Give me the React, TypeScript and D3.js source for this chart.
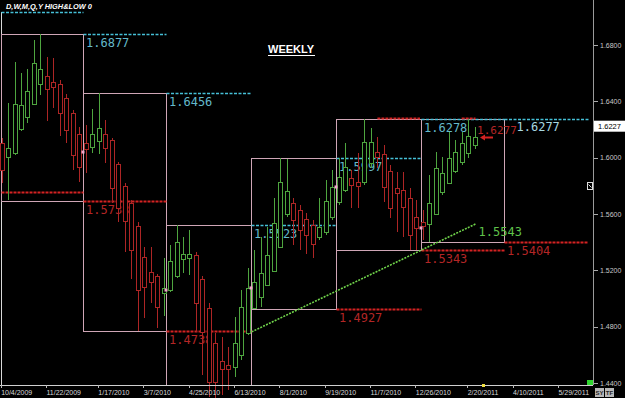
import React from 'react';
import * as d3 from 'd3';

const W = 625;
const H = 398;

// Weekly candles, first week starting Monday 2009-10-05
const firstWeek = '2009-10-05';
const opens = [1.6104,1.6005,1.6033,1.6204,1.6289,1.6381,1.6523,1.6580,1.6537,1.6523,1.6424,1.6317,1.6168,
  1.6104,1.6076,1.6118,1.6168,1.6126,1.5955,1.5799,1.5678,1.5515,1.5295,1.5188,1.5160,1.5039,
  1.5060,1.5160,1.5281,1.5288,1.5309,1.5139,1.4933,1.4684,1.4556,1.4528,1.4514,1.4599,1.4755,
  1.4930,1.5011,1.5096,1.5195,1.5366,1.5600,1.5678,1.5628,1.5565,1.5522,1.5437,1.5472,1.5579,
  1.5685,1.5771,1.5856,1.5827,1.5827,1.5962,1.6040,1.6026,1.5905,1.5785,1.5771,1.5714,1.5579,
  1.5543,1.5529,1.5600,1.5756,1.5820,1.5905,1.5969,1.6033,1.6090];
const highs = [1.6140,1.6388,1.6679,1.6601,1.6630,1.6836,1.6877,1.6715,1.6708,1.6552,1.6452,1.6339,1.6218,
  1.6232,1.6346,1.6456,1.6268,1.6140,1.5969,1.5820,1.5700,1.5543,1.5366,1.5366,1.5174,1.5288,
  1.5380,1.5523,1.5437,1.5486,1.5330,1.5160,1.4968,1.4755,1.4727,1.4656,1.4869,1.5060,1.5217,
  1.5344,1.5437,1.5508,1.5714,1.5997,1.5990,1.5714,1.5664,1.5607,1.5558,1.5714,1.5842,1.5913,
  1.5998,1.6104,1.5913,1.6033,1.6278,1.6211,1.6147,1.6090,1.5948,1.5898,1.5898,1.5785,1.5700,
  1.5628,1.5877,1.6040,1.6005,1.6182,1.6126,1.6182,1.6277,1.6218];
const lows = [1.5820,1.5700,1.6019,1.6189,1.6246,1.6374,1.6445,1.6260,1.6353,1.6154,1.6104,1.5913,1.5827,
  1.5891,1.6033,1.6026,1.5962,1.5678,1.5543,1.5330,1.5139,1.4769,1.4862,1.4968,1.4791,1.4876,
  1.5046,1.5146,1.5181,1.5167,1.4762,1.4457,1.4301,1.4294,1.4315,1.4351,1.4443,1.4564,1.4741,
  1.4927,1.4940,1.5089,1.5188,1.5359,1.5579,1.5380,1.5344,1.5316,1.5288,1.5416,1.5451,1.5558,
  1.5664,1.5756,1.5643,1.5643,1.5806,1.5927,1.5927,1.5685,1.5572,1.5472,1.5437,1.5344,1.5343,
  1.5416,1.5404,1.5593,1.5735,1.5813,1.5891,1.5948,1.5998,1.6062];
const closes = [1.5913,1.6069,1.6381,1.6374,1.6473,1.6672,1.6630,1.6488,1.6502,1.6317,1.6197,1.6019,1.5934,
  1.6062,1.6168,1.6211,1.6069,1.5785,1.5643,1.5550,1.5344,1.5060,1.5082,1.5117,1.4940,1.5075,
  1.5266,1.5401,1.5316,1.5316,1.4968,1.4762,1.4407,1.4407,1.4500,1.4500,1.4684,1.4940,1.5075,
  1.5117,1.5181,1.5309,1.5536,1.5827,1.5763,1.5558,1.5486,1.5451,1.5387,1.5508,1.5692,1.5792,
  1.5863,1.5934,1.5806,1.5799,1.6111,1.6111,1.6005,1.5792,1.5643,1.5749,1.5650,1.5451,1.5501,
  1.5515,1.5678,1.5927,1.5891,1.5998,1.6040,1.6104,1.6154,1.6147];

// Quarterly high / low boxes
const quarterStarts = ['2009-10-01','2010-01-01','2010-04-01','2010-07-01','2010-10-01','2011-01-01','2011-04-01','2011-07-01'];
const quarterHighs = [1.6877,1.6456,1.5523,1.5997,1.6278,1.6277];
const quarterLows = [1.5692,1.4769,1.4294,1.4927,1.5343,1.5404];
const priorQuarterHigh = 1.7034;
const priorQuarterLow = 1.5756;
const highLabels = ['1.6877','1.6456','1.5523','1.5997','1.6278','1.6277'];
const lowLabels = ['1.5738','1.4738','','1.4927','1.5343','1.5404'];
const quarterOpenMarks = [1.6040,1.5060,1.5075,1.5792,1.5501];

// Other levels
const redHighSegments = [['2010-11-15','2010-12-31'],['2011-02-14','2011-03-01']];
const redHighValue = 1.6285;
const redHighLabel = '1.6277';
const trendDates = ['2010-06-29','2011-03-01'];
const trendValues = [1.4753,1.5529];
const trendLabel = '1.5543';
const lastPrice = 1.6227;
const lastPriceLabel = '1.6227';

const yTicks = [1.68,1.64,1.60,1.56,1.52,1.48,1.44];
const xTickDates = ['2009-10-04','2009-11-22','2010-01-17','2010-03-07','2010-04-25','2010-06-13','2010-08-01',
  '2010-09-19','2010-11-07','2010-12-26','2011-02-20','2011-04-10','2011-05-29'];
const xTickLabels = ['10/4/2009','11/22/2009','1/17/2010','3/7/2010','4/25/2010','6/13/2010','8/1/2010',
  '9/19/2010','11/7/2010','12/26/2010','2/20/2011','4/10/2011','5/29/2011'];

const PLOT_R = 593;
const PLOT_B = 385;

const GREEN = '#4ea53f';
const RED = '#ad2525';
const CYAN = '#45bfd6';
const CYAN_TXT = '#63b9cb';
const RED_LINE = '#d42222';
const RED_TXT = '#b32626';
const BOX = '#cfa6b6';
const DIGIT_FONT = '"DejaVu Sans Mono", monospace';
const UI_FONT = '"Liberation Sans", Arial, sans-serif';

export default function App() {
  const d = (s: string) => new Date(s + 'T00:00:00Z');
  const x = d3.scaleUtc().domain([d('2009-11-22'), d('2011-05-29')]).range([46, 46 + 79 * 6.48]);
  const y = d3.scaleLinear().domain([1.44, 1.68]).range([383, 45]);
  const r = (v: number) => Math.round(v) + 0.5;

  const candles = opens.map((o, i) => ({
    date: d3.utcMonday.offset(d(firstWeek), i),
    o, h: highs[i], l: lows[i], c: closes[i],
  }));

  const qx = quarterStarts.map((s) => Math.min(PLOT_R, Math.max(1, Math.round(x(d(s))))) + 0.5);

  const regions = quarterStarts.slice(0, -1).map((s, i) => ({
    x0: qx[i],
    x1: qx[i + 1],
    hi: i === 0 ? priorQuarterHigh : quarterHighs[i - 1],
    lo: i === 0 ? priorQuarterLow : quarterLows[i - 1],
    hiLabel: i === 0 || i === 6 ? '' : highLabels[i - 1],
    loLabel: i === 0 ? '' : lowLabels[i - 1],
  }));

  const last = candles[candles.length - 1];
  const arrowY = r(y(last.c));
  const arrowX = Math.round(x(last.date)) + 5;

  return (
    <svg width={W} height={H} style={{ position: 'fixed', left: 0, top: 0, display: 'block', background: '#000' }}>
      <defs>
        <clipPath id="plot">
          <rect x={0} y={0} width={PLOT_R} height={PLOT_B} />
        </clipPath>
      </defs>
      <rect x={0} y={0} width={W} height={H} fill="#000" />

      {/* Title */}
      <text x={6} y={9} fill="#fff" fontFamily={UI_FONT} fontSize={7.4} fontWeight="bold" fontStyle="italic">D,W,M,Q,Y HIGH&amp;LOW 0</text>
      <text x={268} y={53} fill="#fff" fontFamily={UI_FONT} fontSize={11} fontWeight="bold">WEEKLY</text>
      <line x1={268} x2={315} y1={55.5} y2={55.5} stroke="#fff" strokeWidth={1} />

      <g clipPath="url(#plot)">
        {/* left border */}
        <line x1={1.5} x2={1.5} y1={12} y2={PLOT_B} stroke="#d8d8d8" />
        {/* quarter boxes */}
        {quarterHighs.map((hv, i) => {
          const y0 = r(y(hv));
          const y1 = Math.min(PLOT_B, Math.round(y(quarterLows[i]))) + 0.5;
          return (
            <rect key={'b' + i} x={qx[i]} y={y0} width={qx[i + 1] - qx[i]} height={y1 - y0}
              fill="none" stroke={BOX} strokeWidth={1} />
          );
        })}
        {/* previous-quarter high/low lines */}
        {regions.map((g, i) => (
          <g key={'g' + i}>
            <line x1={g.x0} x2={g.x1} y1={r(y(g.hi))} y2={r(y(g.hi))} stroke={CYAN} strokeWidth={1.5} strokeDasharray="3,1.5" />
            <line x1={g.x0} x2={g.x1} y1={r(y(g.lo))} y2={r(y(g.lo))} stroke={RED_LINE} strokeWidth={2} strokeDasharray="3,1" />
            {g.hiLabel && (
              <text x={g.x0 + 2.5} y={Math.round(y(g.hi)) + 13} fill={CYAN_TXT} fontFamily={DIGIT_FONT} fontSize={12}>{g.hiLabel}</text>
            )}
            {g.loLabel && (
              <text x={g.x0 + 2.5} y={Math.round(y(g.lo)) + 13} fill={RED_TXT} fontFamily={DIGIT_FONT} fontSize={12}>{g.loLabel}</text>
            )}
          </g>
        ))}
        {/* red running-high segments */}
        {redHighSegments.map((s, i) => (
          <line key={'rh' + i} x1={x(d(s[0]))} x2={x(d(s[1]))} y1={r(y(redHighValue))} y2={r(y(redHighValue))}
            stroke={RED_LINE} strokeWidth={2} strokeDasharray="3,1" />
        ))}
        <text x={x(d(redHighSegments[1][1])) + 1.5} y={Math.round(y(redHighValue)) + 16} fill={RED_TXT}
          fontFamily={DIGIT_FONT} fontSize={11}>{redHighLabel}</text>
        <text x={qx[6] + 12} y={Math.round(y(quarterHighs[5])) + 12} fill="#a8d8e0"
          fontFamily={DIGIT_FONT} fontSize={12}>{highLabels[5]}</text>
        {/* trend line */}
        <line x1={x(d(trendDates[0]))} y1={y(trendValues[0])} x2={x(d(trendDates[1]))} y2={y(trendValues[1])}
          stroke="#6fd34a" strokeWidth={1.6} strokeDasharray="2,1.2" />
        <text x={x(d(trendDates[1])) + 3} y={y(trendValues[1]) + 12} fill="#5fc24a" fontFamily={DIGIT_FONT} fontSize={12}>{trendLabel}</text>
      </g>

      {/* candles */}
      {candles.map((k, i) => {
        const cx = r(x(k.date));
        const up = k.c >= k.o;
        const col = up ? GREEN : RED;
        const top = Math.round(y(Math.max(k.o, k.c))) + 0.5;
        const bot = Math.round(y(Math.min(k.o, k.c))) + 0.5;
        return (
          <g key={'k' + i}>
            <line x1={cx} x2={cx} y1={Math.round(y(k.h))} y2={Math.round(y(k.l))} stroke={col} strokeWidth={1} />
            <rect x={cx - 2} y={top} width={4} height={Math.max(1, bot - top)} fill="#000" stroke={col} strokeWidth={1} />
          </g>
        );
      })}

      {/* quarter open markers */}
      {quarterOpenMarks.map((v, i) => (
        <rect key={'m' + i} x={qx[i + 1] - 2} y={y(v) - 1.5} width={3} height={3} fill="#f2a6cc" />
      ))}

      {/* arrow to last price */}
      <path d={`M${arrowX},${arrowY} l5,-3 v2 h8 v2 h-8 v2 z`} fill={RED_LINE} />

      {/* Y axis */}
      <line x1={PLOT_R + 0.5} x2={PLOT_R + 0.5} y1={0} y2={PLOT_B} stroke="#9a9a9a" />
      {yTicks.map((t) => (
        <g key={'yt' + t}>
          <line x1={PLOT_R + 1} x2={PLOT_R + 5} y1={r(y(t))} y2={r(y(t))} stroke="#aaa" />
          <text x={600} y={y(t) + 2.5} fill="#c8c8c8" fontFamily={UI_FONT} fontSize={7}>{t.toFixed(4)}</text>
        </g>
      ))}
      <rect x={594} y={y(lastPrice) - 5} width={31} height={11} fill="#fff" />
      <text x={598} y={y(lastPrice) + 3} fill="#000" fontFamily={UI_FONT} fontSize={7.5}>{lastPriceLabel}</text>

      {/* X axis */}
      <line x1={0} x2={PLOT_R} y1={PLOT_B + 0.5} y2={PLOT_B + 0.5} stroke="#d0d0d0" />
      {xTickDates.map((s, i) => (
        <g key={'xt' + i}>
          <line x1={r(x(d(s)))} x2={r(x(d(s)))} y1={PLOT_B} y2={PLOT_B + 3} stroke="#bbb" />
          <text x={x(d(s)) + 0.5} y={394.5} fill="#d8d8d8" fontFamily={UI_FONT} fontSize={7}>{xTickLabels[i]}</text>
        </g>
      ))}

      {/* misc UI bits */}
      <rect x={482} y={384} width={3} height={3} fill="#f0e040" />
      <rect x={587} y={380} width={6} height={5} fill="#2fd62f" />
      <rect x={587.5} y={182.5} width={5} height={7} fill="none" stroke="#ddd" />
      <line x1={588.5} x2={591.5} y1={184.5} y2={187.5} stroke="#ddd" />
      <rect x={595} y={388} width={9} height={9} fill="#b8b8b8" />
      <text x={599.5} y={395} fill="#222" fontFamily={UI_FONT} fontSize={6} fontWeight="bold" textAnchor="middle">SY</text>
      <rect x={605} y={388} width={9} height={9} fill="#b8b8b8" />
      <text x={609.5} y={395} fill="#222" fontFamily={UI_FONT} fontSize={6} fontWeight="bold" textAnchor="middle">TF</text>
    </svg>
  );
}
